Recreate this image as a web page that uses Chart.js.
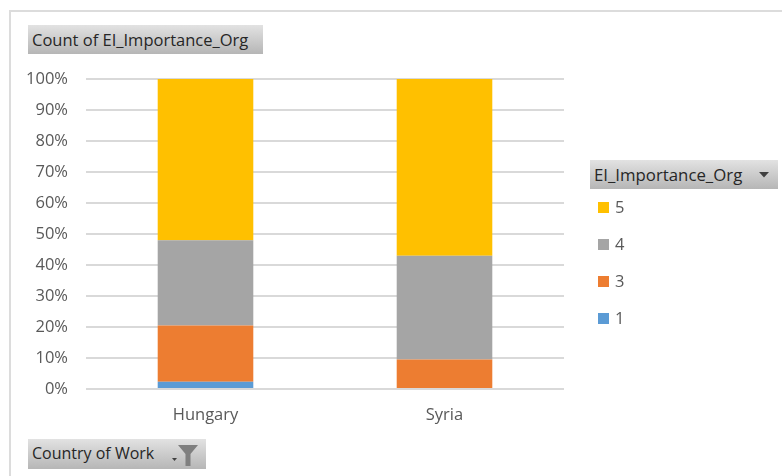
<!DOCTYPE html>
<html>
<head>
<meta charset="utf-8">
<title>Count of EI_Importance_Org</title>
<script src="https://cdn.jsdelivr.net/npm/chart.js@4"></script>
<style>
  html, body { margin: 0; padding: 0; background: #fff; }
  #wrap { position: relative; width: 782px; height: 476px; overflow: hidden; font-family: "Open Sans", sans-serif; }
  #frame { position: absolute; left: 9px; top: 10px; width: 800px; height: 500px; border: 2px solid #dcdcdc; box-sizing: border-box; }
  canvas { position: absolute; left: 0; top: 0; }
  .field {
    position: absolute; box-sizing: border-box; padding-left: 4px;
    background: linear-gradient(#e2e2e2, #b6b6b6);
    color: #262626; font-size: 16.5px; white-space: nowrap;
  }
  .legend-item { position: absolute; left: 598px; height: 20px; color: #595959; font-size: 16.5px; line-height: 20px; }
  .legend-item i { position: absolute; left: 0; top: 5px; width: 11px; height: 11px; }
  .legend-item span { position: absolute; left: 17px; }
  svg { position: absolute; }
</style>
</head>
<body>
<div id="wrap">
  <div id="frame"></div>
  <canvas id="importanceChart" width="782" height="476"></canvas>
  <div class="field" style="left:28px;top:25px;width:235px;height:29px;line-height:29px">Count of EI_Importance_Org</div>
  <div class="field" style="left:28px;top:439px;width:178px;height:30px;line-height:29px;font-size:16px">Country of Work
    <svg style="left:142px;top:5px" width="36" height="23" viewBox="0 0 36 23">
      <path d="M2 14h5l-2.5 3z" fill="#404040"/>
      <path d="M8 1h20l-7.5 9v12h-5V10z" fill="#7f7f7f"/>
    </svg>
  </div>
  <div class="field" style="left:590px;top:160px;width:188px;height:29px;line-height:29px;font-size:16.8px">EI_Importance_Org
    <svg style="left:169px;top:12px" width="10" height="6" viewBox="0 0 10 6"><path d="M0 0h10L5 5.5z" fill="#404040"/></svg>
  </div>
  <div id="legend"></div>
</div>
<script>
var countries = ['Hungary', 'Syria'];
var importance1 = [2.3, 0];
var importance3 = [18.2, 9.5];
var importance4 = [27.5, 33.5];
var importance5 = [52, 57];
var yTickLabels = ['0%', '10%', '20%', '30%', '40%', '50%', '60%', '70%', '80%', '90%', '100%'];

var ctx = document.getElementById('importanceChart').getContext('2d');
var importanceChart = new Chart(ctx, {
    type: 'bar',
    data: {
        labels: countries,
        datasets: [
            { label: '1', data: importance1, backgroundColor: '#5b9bd5' },
            { label: '3', data: importance3, backgroundColor: '#ed7d31' },
            { label: '4', data: importance4, backgroundColor: '#a5a5a5' },
            { label: '5', data: importance5, backgroundColor: '#ffc000' }
        ]
    },
    options: {
        responsive: false,
        animation: false,
        layout: { padding: { left: 0, top: 79, right: 218, bottom: 47 } },
        datasets: { bar: { categoryPercentage: 1, barPercentage: 0.4 } },
        plugins: { legend: { display: false }, tooltip: { enabled: false } },
        scales: {
            x: {
                stacked: true,
                afterFit: function (axis) { axis.height = 40; },
                grid: { display: false },
                border: { display: false },
                ticks: { color: '#595959', font: { family: 'Open Sans', size: 16.5 }, padding: 8 }
            },
            y: {
                stacked: true,
                min: 0,
                max: 100,
                afterFit: function (axis) { axis.width = 86; },
                grid: { color: '#d9d9d9', lineWidth: 2, drawTicks: false },
                border: { display: false },
                ticks: {
                    stepSize: 10,
                    color: '#595959',
                    font: { family: 'Open Sans', size: 16.5 },
                    padding: 18,
                    callback: function (value) { return yTickLabels[value / 10]; }
                }
            }
        }
    }
});

// legend lists the top of the stack first
var legendBox = document.getElementById('legend');
importanceChart.data.datasets.slice().reverse().forEach(function (ds, i) {
    var item = document.createElement('div');
    item.className = 'legend-item';
    item.style.top = (197 + i * 37) + 'px';
    item.innerHTML = '<i style="background:' + ds.backgroundColor + '"></i><span>' + ds.label + '</span>';
    legendBox.appendChild(item);
});
</script>
</body>
</html>
